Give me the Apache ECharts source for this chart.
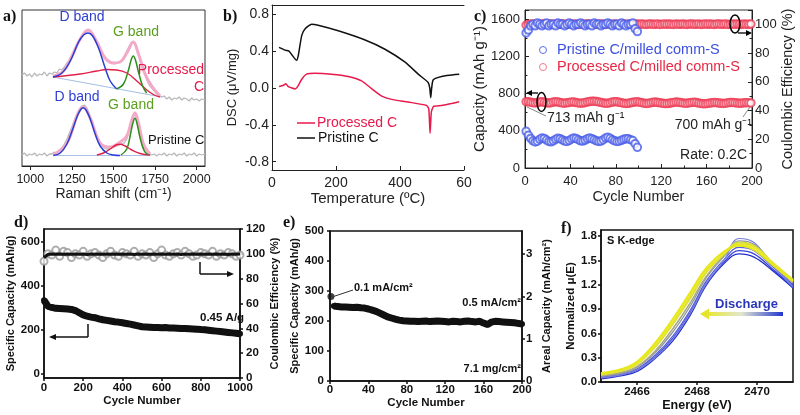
<!DOCTYPE html>
<html><head><meta charset="utf-8">
<script src="https://cdn.jsdelivr.net/npm/echarts@6.0.0/dist/echarts.min.js"></script>
<style>html,body{margin:0;padding:0;background:#fff}#c{width:800px;height:415px}</style>
</head><body><div id="c"></div><script>
// ---------- DATA ----------
// (a) Raman spectra: [Raman shift, intensity (a.u.)]
const A_RAW_PROC = [[950,91],[965,93],[980,90],[995,92],[1010,89],[1025,93],[1040,90],[1055,92],[1070,91],[1085,94],[1100,90],[1115,93],[1130,92],[1145,94],[1160,93],[1175,97],[1190,96],[1205,99],[1220,103],[1235,106],[1250,111],[1265,116],[1280,121],[1295,126],[1310,130],[1325,134],[1340,136],[1355,135],[1370,132],[1385,127],[1400,122],[1415,117],[1430,112],[1445,108],[1460,105],[1475,104],[1490,103],[1505,102],[1520,103],[1535,104],[1550,106],[1565,110],[1580,115],[1595,120],[1610,124],[1625,123],[1640,117],[1655,110],[1670,101],[1685,93],[1700,86],[1715,81],[1730,78],[1745,75],[1760,72],[1775,70],[1790,69],[1805,70],[1820,67],[1835,69],[1850,66],[1865,68],[1880,67],[1895,69],[1910,66],[1925,68],[1940,67],[1955,65],[1970,68],[1985,66],[2000,67],[2015,65],[2030,67],[2050,66]];
const A_PROC_BASE = [[1136,89],[1790,69]];
const A_PROC_SUM = [[1136,90],[1200,95],[1250,110],[1300,127],[1347,136],[1400,124],[1450,108],[1500,103],[1540,104],[1580,113],[1619,124],[1650,112],[1690,92],[1730,80],[1780,70]];
const A_PROC_D = [[1136,89],[1190,93],[1240,105],[1290,124],[1320,131],[1347,133],[1375,130],[1410,118],[1450,98],[1480,85],[1519,77]];
const A_PROC_G = [[1519,77],[1560,82],[1590,96],[1606,106],[1619,110],[1632,106],[1650,94],[1675,80],[1699,73]];
const A_PROC_R = [[1136,89],[1200,90],[1300,92],[1400,95],[1460,96.5],[1519,96],[1580,93],[1640,85],[1700,76],[1745,71],[1779,69]];
const A_RAW_PRIS = [[950,11],[965,13],[980,10],[995,12],[1010,11],[1025,13],[1040,10],[1055,12],[1070,11],[1085,13],[1100,10],[1115,12],[1130,12],[1145,14],[1160,13],[1175,16],[1190,18],[1205,22],[1220,27],[1235,33],[1250,39],[1265,46],[1280,52],[1295,57],[1310,60],[1325,61],[1340,58],[1355,52],[1370,45],[1385,38],[1400,31],[1415,25],[1430,21],[1445,18],[1460,17],[1475,17],[1490,18],[1505,19],[1520,20],[1535,21],[1550,22],[1565,23],[1580,27],[1595,36],[1610,46],[1628,54],[1640,47],[1655,33],[1670,23],[1685,17],[1700,14],[1715,12],[1730,11],[1745,12],[1760,10],[1775,12],[1790,11],[1805,13],[1820,10],[1835,12],[1850,11],[1865,13],[1880,10],[1895,12],[1910,11],[1925,13],[1940,10],[1955,12],[1970,11],[1985,13],[2000,10],[2015,12],[2030,11],[2050,12]];
const A_PRIS_BASE = [[1138,10.5],[1720,10.5]];
const A_PRIS_SUM = [[1138,11],[1220,23],[1285,52],[1318,59],[1360,48],[1420,23],[1480,19],[1540,24],[1580,30],[1610,46],[1629,53],[1650,43],[1680,22],[1720,12]];
const A_PRIS_D = [[1138,10.5],[1180,13],[1220,22],[1255,37],[1285,51],[1305,57],[1318,58.3],[1335,56],[1360,47],[1390,32],[1420,20],[1460,13],[1500,11],[1539,10.5]];
const A_PRIS_G = [[1545,11],[1580,17],[1600,30],[1615,42],[1629,47.7],[1642,42],[1660,28],[1685,15],[1709,11]];
const A_PRIS_R = [[1400,11],[1440,13],[1480,17],[1515,21],[1540,21.7],[1570,20],[1610,16],[1660,12.5],[1720,11]];
const A_TICKS = [1000,1250,1500,1750,2000];

// (b) DSC: [temperature, DSC]
const B_PROC = [[22,0.015],[36,0.03],[43,0.045],[51,0.015],[62,0.0],[72,-0.01],[80,0.015],[93,0.095],[108,0.15],[134,0.16],[186,0.15],[238,0.125],[280,0.077],[311,-0.007],[343,-0.088],[374,-0.124],[426,-0.153],[483,-0.19],[490,-0.23],[494,-0.49],[498,-0.26],[505,-0.2],[530,-0.19],[561,-0.168],[585,-0.15]];
const B_PRIS = [[22,0.44],[41,0.41],[53,0.40],[62,0.36],[77,0.30],[82,0.35],[93,0.57],[103,0.64],[124,0.69],[144,0.68],[207,0.62],[291,0.52],[353,0.42],[416,0.28],[457,0.15],[488,0.06],[493,0.0],[496,-0.105],[499,0.0],[504,0.09],[530,0.125],[562,0.14],[585,0.15]];
const B_YTICKS = [-0.8,-0.4,0,0.4,0.8];
const B_XTICKS = [0,200,400,600];

// (c) cycling, every 2nd cycle starting at cycle 1
const C_BLUE_CAP = [395,352,318,292,280,288,308,322,318,300,286,282,292,308,320,316,302,290,286,296,312,322,318,304,292,290,300,314,322,316,304,292,286,290,304,322,330,320,304,292,286,288,298,308,316,314,304,296,262,222];
const C_RED_CAP = [713,712,708,703,700,704,710,712,707,702,699,703,709,712,710,704,700,698,701,706,710,709,704,700,697,699,704,710,715,718,719,716,711,705,700,697,698,703,709,713,712,707,702,697,694,696,701,707,711,712,708,703,698,695,697,702,707,709,706,701,697,694,693,696,701,706,709,708,704,700,697,698,702,706,707,704,699,695,692,692,695,699,703,705,703,699,696,695,698,702,705,705,702,699,697,698,701,703,702,700];
const C_BLUE_CE = [94,96,99,100,99,101,100,99,100,101,99,100,100,99,101,100,100,99,100,101,100,99,100,100,101,100,99,100,100,99,101,100,100,99,100,100,101,100,99,100,100,99,101,100,99,100,100,101,97,95];
const C_RED_CE = [99.4,99.9,100.2,100.0,100.3,100.1,99.9,100.2,100.4,100.0,100.1,100.3,99.9,100.2,100.0,100.1,100.4,99.9,100.1,100.2,100.0,100.3,100.1,99.9,100.2,100.1,100.0,100.3,100.2,99.9,100.1,100.3,100.0,100.2,100.1,99.9,100.3,100.1,100.0,100.2,100.1,99.9,100.2,100.3,100.0,100.1,100.2,99.9,100.1,100.3,100.0,100.2,100.1,99.9,100.2,100.3,100.0,100.1,100.2,99.9,100.1,100.3,100.0,100.2,100.1,99.9,100.3,100.1,100.0,100.2,100.1,99.9,100.2,100.3,100.0,100.1,100.2,99.9,100.1,100.3,100.0,100.2,100.1,99.9,100.2,100.3,100.0,100.1,100.2,99.9,100.1,100.3,100.0,100.2,100.1,99.9,100.3,100.1,100.0,100.2];

// (d) long cycling, every 20 cycles from 0
const D_CAP = [335,308,302,298,297,296,295,293,288,278,268,262,258,255,250,246,243,240,237,235,232,229,226,222,218,214,213,212,211,210,209,210,208,208,207,206,206,205,204,203,201,200,198,196,194,192,190,188,186,184,182];
const D_CE_OPEN = [94,100,99,103,98,102,101,97,100,99,102,98,100,101,99,97,100,102,99,98,101,100,99,102,98,100,99,101,97,100,103,99,98,100,101,99,102,100,98,99,101,100,99,102,98,100,99,101,100,98,99];
const D_CE_FILL = [97,99.5,99.8,99.6,99.9,99.7,99.8,99.6,99.9,99.7,99.8,99.5,99.9,99.7,99.8,99.6,99.9,99.7,99.8,99.6,99.9,99.7,99.8,99.5,99.9,99.7,99.8,99.6,99.9,99.7,99.8,99.6,99.9,99.7,99.8,99.5,99.9,99.7,99.8,99.6,99.9,99.7,99.8,99.6,99.9,99.7,99.8,99.5,99.9,99.7,99.8];
const D_YTICKS = [0,200,400,600];

// (e) high loading, every 4 cycles from 4; first cycle separately
const E_FIRST = [[1,282]];
const E_CAP = [250,248,247,247,246,245,246,244,243,240,236,232,226,220,214,210,206,203,201,200,199,199,198,199,200,198,199,200,199,198,197,199,198,197,199,200,198,197,199,193,188,196,199,198,197,196,195,194,192,190];

// (f) S K-edge XANES
const F_X = [2464.8,2465.5,2466.0,2466.6,2467.2,2467.8,2468.3,2468.9,2469.4,2469.9,2470.5,2471.2];
const F_Y1 = [0.11,0.16,0.25,0.48,0.78,1.12,1.40,1.61,1.68,1.63,1.45,1.24];
const F_Y2 = [0.10,0.15,0.23,0.45,0.74,1.08,1.37,1.59,1.70,1.66,1.47,1.25];
const F_Y3 = [0.09,0.14,0.22,0.43,0.72,1.05,1.35,1.58,1.72,1.68,1.48,1.26];
const F_G1 = [0.08,0.12,0.19,0.38,0.66,0.99,1.30,1.56,1.70,1.68,1.47,1.24];
const F_G2 = [0.07,0.11,0.18,0.36,0.62,0.95,1.28,1.55,1.74,1.70,1.46,1.22];
const F_B1 = [0.06,0.10,0.16,0.33,0.57,0.90,1.24,1.51,1.66,1.62,1.43,1.20];
const F_B2 = [0.05,0.09,0.15,0.31,0.54,0.87,1.21,1.48,1.62,1.58,1.40,1.18];
const F_B3 = [0.05,0.09,0.15,0.30,0.53,0.86,1.21,1.50,1.77,1.72,1.45,1.17];
const F_B4 = [0.04,0.08,0.13,0.29,0.51,0.84,1.19,1.46,1.58,1.54,1.38,1.16];
const F_XTICKS = [2466,2468,2470];
const F_YTICKS = [0,0.3,0.6,0.9,1.2,1.5,1.8];

// ---------- BUILD ----------
const FS = "'Liberation Sans', Arial, Helvetica, sans-serif";
const SERIF = "'Liberation Serif', 'Times New Roman', serif";
const idx = (arr, start, step) => arr.map((v, i) => [start + i * step, v]);
const xy = (xs, ys) => ys.map((v, i) => [xs[i], v]);

function ax(p) {
  const bold = !!p.bold;
  const col = bold ? '#111' : '#222';
  const lw = bold ? 1.5 : 1;
  const o = {
    type: 'value', gridIndex: p.g, position: p.pos, min: p.min, max: p.max,
    splitLine: {show: false},
    axisLine: {show: true, onZero: false, lineStyle: {color: col, width: lw}},
    axisTick: {show: p.ticks !== false, inside: !!p.inside, length: p.tl || 4, lineStyle: {color: col, width: lw}},
    minorTick: p.minor ? {show: true, splitNumber: p.minor, length: 2.5, lineStyle: {color: col, width: 1}} : {show: false},
    axisLabel: {show: p.labels !== false, margin: p.margin, fontFamily: FS, fontSize: p.fs || 12,
      fontWeight: bold ? 'bold' : 'normal', color: col, showMaxLabel: p.showMax, showMinLabel: true,
      formatter: p.fmt || (v => String(v))},
    name: p.name || '', nameLocation: 'middle', nameGap: p.gap, nameRotate: p.rot,
    nameTextStyle: {fontFamily: FS, fontSize: p.nfs || 13, fontWeight: bold ? 'bold' : 'normal', color: col}
  };
  if (p.vals) { o.axisTick.customValues = p.vals; o.axisLabel.customValues = p.vals; }
  if (p.interval) o.interval = p.interval;
  return o;
}

const grids = [
  {left: 22, top: 10, width: 183, height: 156, show: true, borderColor: '#333', borderWidth: 1},
  {left: 272, top: 5, width: 192, height: 165},
  {left: 525, top: 10, width: 227, height: 158, show: true, borderColor: '#333', borderWidth: 1},
  {left: 44, top: 229, width: 196, height: 149, show: true, borderColor: '#111', borderWidth: 1.5},
  {left: 330, top: 231, width: 192, height: 150, show: true, borderColor: '#111', borderWidth: 1.5},
  {left: 601, top: 230, width: 192, height: 152, show: true, borderColor: '#111', borderWidth: 1.5}
].map(g => Object.assign({outerBoundsMode: 'none', containLabel: false}, g));

const xAxes = [
  ax({g: 0, pos: 'bottom', min: 950, max: 2050, vals: A_TICKS, fs: 12.5, margin: 7, name: 'Raman shift (cm\u207B\u00B9)', nfs: 14, gap: 20}),
  ax({g: 1, pos: 'bottom', min: 0, max: 600, vals: B_XTICKS, fs: 14, margin: 6, name: 'Temperature (\u00BAC)', nfs: 15, gap: 19, inside: true,
      fmt: v => (v === 600 ? '60' : String(v))}),
  ax({g: 1, pos: 'top', min: 0, max: 600, ticks: false, labels: false}),
  ax({g: 2, pos: 'bottom', min: 0, max: 200, interval: 40, minor: 2, inside: true, fs: 13, margin: 7, name: 'Cycle Number', nfs: 14.5, gap: 21}),
  ax({g: 3, pos: 'bottom', bold: true, min: 0, max: 1000, interval: 200, fs: 11.5, margin: 4, tl: 3, name: 'Cycle Number', nfs: 11.5, gap: 17}),
  ax({g: 4, pos: 'bottom', bold: true, min: 0, max: 200, interval: 40, fs: 11.5, margin: 3, tl: 3, name: 'Cycle Number', nfs: 11.5, gap: 15}),
  ax({g: 5, pos: 'bottom', bold: true, min: 2464.8, max: 2471.2, vals: F_XTICKS, fs: 11.5, margin: 4, tl: 3, name: 'Energy (eV)', nfs: 12.5, gap: 14})
];
const yAxes = [
  Object.assign(ax({g: 0, pos: 'left', min: 0, max: 156, ticks: false, labels: false}), {show: false}),
  ax({g: 1, pos: 'left', min: -0.89, max: 0.9, vals: B_YTICKS, fs: 14, margin: 3, inside: true, name: 'DSC (\u03BCV/mg)', nfs: 13, gap: 33, fmt: v => v.toFixed(1)}),
  ax({g: 2, pos: 'left', min: 0, max: 1700, interval: 400, minor: 2, inside: true, fs: 13, margin: 5, showMax: false, name: 'Capacity (mAh g\u207B\u00B9)', nfs: 15, gap: 36}),
  ax({g: 2, pos: 'right', min: 0, max: 110, interval: 20, minor: 2, inside: true, fs: 13, margin: 3, showMax: false, name: 'Coulombic Efficiency (%)', nfs: 14.5, gap: 27, rot: 90}),
  ax({g: 3, pos: 'left', bold: true, min: -20, max: 660, vals: D_YTICKS, fs: 11.5, margin: 4, tl: 3, name: 'Specific Capacity (mAh/g)', nfs: 11, gap: 26}),
  ax({g: 3, pos: 'right', bold: true, min: 0, max: 120, interval: 20, fs: 11.5, margin: 6, tl: 3, showMax: true, name: 'Coulombic Efficiency (%)', nfs: 11, gap: 26, rot: 90}),
  ax({g: 4, pos: 'left', bold: true, min: 0, max: 500, interval: 100, fs: 11.5, margin: 6, tl: 3, showMax: true, name: 'Specific Capacity (mAh/g)', nfs: 11, gap: 26}),
  ax({g: 4, pos: 'right', bold: true, min: 0, max: 3.55, vals: [0, 1, 2, 3], fs: 11.5, margin: 4, tl: 3, name: 'Areal Capacity (mAh/cm\u00B2)', nfs: 11, gap: 19, rot: 90}),
  ax({g: 5, pos: 'left', bold: true, min: 0, max: 1.875, vals: F_YTICKS, fs: 11.5, margin: 4, tl: 3, name: 'Normalized \u03BC(E)', nfs: 11.5, gap: 22, fmt: v => v.toFixed(1)})
];

function line(xi, yi, data, color, width, extra) {
  return Object.assign({type: 'line', xAxisIndex: xi, yAxisIndex: yi, data, showSymbol: false, symbol: 'none',
    lineStyle: {color, width}, silent: true, animation: false}, extra || {});
}
function scat(xi, yi, data, color, size, bw) {
  return {type: 'scatter', xAxisIndex: xi, yAxisIndex: yi, data, symbol: 'emptyCircle', symbolSize: size,
    itemStyle: {color: color, borderWidth: bw || 1}, silent: true, animation: false};
}

const series = [
  // (a)
  line(0, 0, A_RAW_PROC, '#b9b9b9', 1.3),
  line(0, 0, A_RAW_PRIS, '#b9b9b9', 1.3),
  line(0, 0, A_PROC_BASE, '#a9bfe3', 1.2),
  line(0, 0, A_PRIS_BASE, '#a9bfe3', 1.2),
  line(0, 0, A_PROC_SUM, '#f3a9c8', 3, {smooth: 0.4}),
  line(0, 0, A_PRIS_SUM, '#f3a9c8', 3, {smooth: 0.4}),
  line(0, 0, A_PROC_R, '#e2214b', 1.4, {smooth: 0.4}),
  line(0, 0, A_PRIS_R, '#e2214b', 1.4, {smooth: 0.4}),
  line(0, 0, A_PROC_D, '#2b3fd4', 1.5, {smooth: 0.4}),
  line(0, 0, A_PRIS_D, '#2b3fd4', 1.5, {smooth: 0.4}),
  line(0, 0, A_PROC_G, '#2f8f1e', 1.5, {smooth: 0.4}),
  line(0, 0, A_PRIS_G, '#2f8f1e', 1.5, {smooth: 0.4}),
  // (b)
  line(1, 1, B_PROC, '#e8194b', 1.5, {smooth: 0.2}),
  line(1, 1, B_PRIS, '#111', 1.5, {smooth: 0.2}),
  // (c)
  scat(3, 3, idx(C_RED_CE, 1, 2), '#ec3b55', 7.5, 1.5),
  scat(3, 3, idx(C_BLUE_CE, 1, 2), '#4a5ee8', 7.5, 1.3),
  scat(3, 2, idx(C_RED_CAP, 1, 2), '#ec3b55', 7.5, 1.5),
  scat(3, 2, idx(C_BLUE_CAP, 1, 2), '#4a5ee8', 7.5, 1.3),
  // (d)
  scat(4, 5, idx(D_CE_OPEN, 0, 20), '#9a9a9a', 7, 1.2),
  line(4, 5, idx(D_CE_FILL, 0, 20), '#111', 3),
  line(4, 4, idx(D_CAP, 0, 20), '#111', 7, {showSymbol: true, showAllSymbol: true, symbol: 'circle', symbolSize: 6, itemStyle: {color: '#111'}}),
  // (e)
  line(5, 6, idx(E_CAP, 4, 4), '#111', 7, {showSymbol: true, showAllSymbol: true, symbol: 'circle', symbolSize: 6, itemStyle: {color: '#111'}}),
  {type: 'scatter', xAxisIndex: 5, yAxisIndex: 6, data: E_FIRST, symbol: 'circle', symbolSize: 7, itemStyle: {color: '#111'}, silent: true, animation: false},
  // (f)
  line(6, 8, xy(F_X, F_B4), '#2230cc', 1.3, {smooth: 0.4}),
  line(6, 8, xy(F_X, F_B2), '#3a44d8', 1.3, {smooth: 0.4}),
  line(6, 8, xy(F_X, F_B1), '#5560d8', 1.3, {smooth: 0.4}),
  line(6, 8, xy(F_X, F_B3), '#7a80e0', 1.2, {smooth: 0.4}),
  line(6, 8, xy(F_X, F_G2), '#8f94a8', 1.3, {smooth: 0.4}),
  line(6, 8, xy(F_X, F_G1), '#a8a880', 1.5, {smooth: 0.4}),
  line(6, 8, xy(F_X, F_Y3), '#d8dc3a', 2, {smooth: 0.4}),
  line(6, 8, xy(F_X, F_Y2), '#eaea2a', 2, {smooth: 0.4}),
  line(6, 8, xy(F_X, F_Y1), '#e6e619', 2, {smooth: 0.4})
];

// ---------- ANNOTATIONS ----------
const T = (x, y, text, font, fill, align) => ({type: 'text', z: 100, style: {x, y, text, font, fill: fill || '#222', textAlign: align || 'left', textVerticalAlign: 'middle'}});
const L = (x1, y1, x2, y2, stroke, w) => ({type: 'line', z: 100, shape: {x1, y1, x2, y2}, style: {stroke, lineWidth: w}});
const P = (points, fill) => ({type: 'polygon', z: 100, shape: {points}, style: {fill}});
const E = (cx, cy, rx, ry) => ({type: 'ellipse', z: 100, shape: {cx, cy, rx, ry}, style: {stroke: '#000', fill: null, lineWidth: 1.5}});
const R13 = '13px ' + FS, R14 = '14px ' + FS, R145 = '14.5px ' + FS, B11 = 'bold 11px ' + FS;
const PL = 'bold 16px ' + SERIF;
const BLUE = '#2e3fd4', GREEN = '#5c9e1e', RED = '#e6194b';

const graphics = [
  // panel labels
  T(3, 17, 'a)', PL, '#111'), T(223, 17, 'b)', PL, '#111'), T(474, 17, 'c)', PL, '#111'),
  T(14, 223, 'd)', PL, '#111'), T(283, 223, 'e)', PL, '#111'), T(561, 229, 'f)', PL, '#111'),
  // (a)
  T(82, 17, 'D band', R14, BLUE, 'center'), T(136, 32, 'G band', R14, GREEN, 'center'),
  T(204, 70, 'Processed', R14, RED, 'right'), T(204, 87, 'C', R14, RED, 'right'),
  T(77, 97, 'D band', R14, BLUE, 'center'), T(131, 105, 'G band', R14, GREEN, 'center'),
  T(148, 140, 'Pristine C', R13, '#111'),
  // (b) legend
  L(297, 123, 315, 123, '#e8194b', 1.5), T(317, 123, 'Processed C', R14, RED),
  L(297, 138, 315, 138, '#111', 1.5), T(318, 138, 'Pristine C', R14, '#111'),
  // (c)
  {type: 'circle', z: 100, shape: {cx: 543, cy: 50, r: 3.5}, style: {stroke: '#5a6ee8', fill: null, lineWidth: 1}},
  T(557, 50, 'Pristine C/milled comm-S', R145, '#3c4fe0'),
  {type: 'circle', z: 100, shape: {cx: 543, cy: 67, r: 3.5}, style: {stroke: '#f07a8a', fill: null, lineWidth: 1}},
  T(557, 67, 'Processed C/milled comm-S', R145, '#e82845'),
  L(527, 107, 546, 116, '#888', 1), T(547, 118, '713 mAh g\u207B\u00B9', R14, '#222'),
  L(750, 107, 743, 117, '#888', 1), T(752, 125, '700 mAh g\u207B\u00B9', R14, '#222', 'right'),
  T(747, 155, 'Rate: 0.2C', R14, '#222', 'right'),
  E(541.5, 102, 4.5, 9.5), L(538, 93, 531, 93, '#000', 1.3), P([[526, 93], [532, 90], [532, 96]], '#000'),
  E(735, 24, 5, 9), L(738, 33, 747, 33, '#000', 1.3), P([[752, 33], [746, 30], [746, 36]], '#000'),
  // (d)
  L(88, 324, 88, 337, '#111', 1.5), L(88, 337, 55, 337, '#111', 1.5), P([[49, 337], [56, 334], [56, 340]], '#111'),
  L(200, 262, 200, 274, '#111', 1.5), L(200, 274, 228, 274, '#111', 1.5), P([[234, 274], [227, 271], [227, 277]], '#111'),
  T(200, 318, '0.45 A/g', 'bold 11.5px ' + FS, '#111'),
  // (e)
  L(332, 297, 353, 290, '#333', 1), T(354, 288, '0.1 mA/cm\u00B2', B11, '#111'),
  T(521, 303, '0.5 mA/cm\u00B2', B11, '#111', 'right'),
  T(521, 369, '7.1 mg/cm\u00B2', B11, '#111', 'right'),
  // (f)
  T(607, 241, 'S K-edge', B11, '#111'),
  T(715, 304, 'Discharge', 'bold 13px ' + FS, '#2a38b8'),
  {type: 'rect', z: 100, shape: {x: 707, y: 312, width: 76, height: 4},
   style: {fill: new echarts.graphic.LinearGradient(0, 0, 1, 0, [{offset: 0, color: '#e8e830'}, {offset: 0.45, color: '#e2e6d0'}, {offset: 1, color: '#2236d0'}])}},
  P([[700, 314], [709, 308.5], [709, 319.5]], '#e4e42a')
];

const chart = echarts.init(document.getElementById('c'), null, {renderer: 'canvas'});
chart.setOption({
  animation: false,
  backgroundColor: '#fff',
  grid: grids, xAxis: xAxes, yAxis: yAxes, series,
  graphic: {elements: graphics}
});
</script></body></html>
